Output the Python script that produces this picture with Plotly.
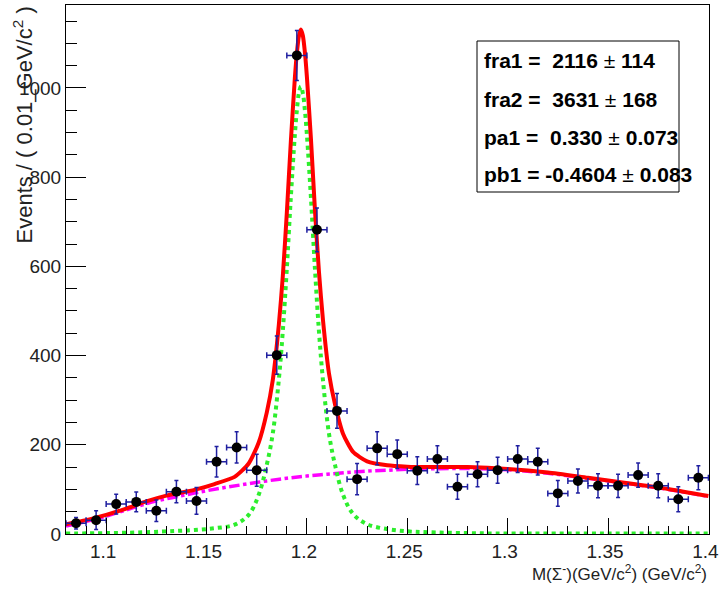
import plotly.graph_objects as go

# ---- data points (bin centres, counts, errors) ----
bin_x = [1.085, 1.095, 1.105, 1.115, 1.125, 1.135, 1.145, 1.155, 1.165, 1.175,
         1.185, 1.195, 1.205, 1.215, 1.225, 1.235, 1.245, 1.255, 1.265, 1.275,
         1.285, 1.295, 1.305, 1.315, 1.325, 1.335, 1.345, 1.355, 1.365, 1.375,
         1.385, 1.395]
counts = [24, 31, 67, 72, 52, 95, 74, 162, 194, 143,
          401, 1073, 682, 276, 123, 192, 179, 142, 168, 106,
          134, 143, 168, 162, 91, 119, 108, 108, 132, 108,
          78, 126]
count_err = [13, 21, 22, 22, 24, 25, 30, 34, 35, 36,
             43, 56, 49, 39, 35, 37, 32, 31, 30, 28,
             28, 29, 30, 30, 29, 27, 27, 26, 27, 27,
             28, 27]
half_bin = 0.005

# ---- fitted curves ----
sig_x = [1.080, 1.100, 1.120, 1.135, 1.144, 1.154, 1.164, 1.171, 1.176, 1.180,
         1.183, 1.186, 1.188, 1.190, 1.192, 1.194, 1.195, 1.196, 1.197, 1.198,
         1.199, 1.200, 1.202, 1.204, 1.206, 1.208, 1.211, 1.214, 1.218, 1.223,
         1.230, 1.240, 1.250, 1.260, 1.280, 1.300, 1.350, 1.400]
sig_y = [1, 2, 4, 7, 9, 13, 21, 43, 88, 155,
         225, 345, 455, 595, 755, 895, 950, 988, 1003, 988,
         950, 895, 755, 595, 455, 345, 225, 155, 88, 45,
         22, 11, 6, 4, 2, 1, 1, 1]

bkg_x = [1.08, 1.09, 1.10, 1.11, 1.12, 1.13, 1.14, 1.15, 1.16, 1.17,
         1.18, 1.19, 1.20, 1.21, 1.22, 1.23, 1.24, 1.25, 1.26, 1.28,
         1.30, 1.32, 1.34, 1.36, 1.38, 1.40]
bkg_y = [18, 28, 40, 54, 68, 79, 88, 97, 105, 112,
         119, 125, 130, 134, 138, 141, 143, 145, 146, 147,
         144, 136, 125, 113, 100, 84]

tot_x = [1.080, 1.090, 1.100, 1.110, 1.120, 1.130, 1.144, 1.154, 1.164, 1.171,
         1.176, 1.180, 1.183, 1.186, 1.188, 1.190, 1.192, 1.194, 1.195, 1.196,
         1.197, 1.198, 1.199, 1.200, 1.202, 1.204, 1.206, 1.208, 1.211, 1.214,
         1.218, 1.223, 1.230, 1.240, 1.250, 1.260, 1.280, 1.300, 1.320, 1.340,
         1.360, 1.380, 1.400]
tot_y = [22, 31, 43, 57, 73, 86, 99, 112, 128, 158,
         205, 272, 345, 468, 578, 720, 880, 1022, 1078, 1116,
         1131, 1117, 1080, 1025, 887, 727, 588, 480, 360, 291,
         225, 184, 163, 154, 151, 150, 150, 146, 138, 126,
         114, 101, 85]

x_range = [1.08, 1.4003]
y_range = [0, 1186]
x_ticks = [1.1, 1.15, 1.2, 1.25, 1.3, 1.35, 1.4]
x_tick_text = ["1.1", "1.15", "1.2", "1.25", "1.3", "1.35", "1.4"]

legend_lines = [
    "<b>fra1 =\u00a0 2116 </b>\u00b1<b> 114</b>",
    "<b>fra2 =\u00a0 3631 </b>\u00b1<b> 168</b>",
    "<b>pa1 =\u00a0 0.330 </b>\u00b1<b> 0.073</b>",
    "<b>pb1 = -0.4604 </b>\u00b1<b> 0.083</b>",
]

FONT = "Liberation Sans"

fig = go.Figure()

fig.add_trace(go.Scatter(
    x=bkg_x, y=bkg_y, mode="lines", line=dict(color="#ff00ff", width=3.5, dash="dashdot", shape="spline"),
    hoverinfo="skip"))
fig.add_trace(go.Scatter(
    x=sig_x, y=sig_y, mode="lines", line=dict(color="#2dee2d", width=4, dash="dot", shape="spline"),
    hoverinfo="skip"))
fig.add_trace(go.Scatter(
    x=tot_x, y=tot_y, mode="lines", line=dict(color="#ff0000", width=4, shape="spline", smoothing=0.6),
    hoverinfo="skip"))
fig.add_trace(go.Scatter(
    x=bin_x, y=counts, mode="markers",
    marker=dict(color="black", size=10, symbol="circle"),
    error_x=dict(type="constant", value=half_bin, color="#1f1fa0", thickness=1.5, width=3),
    error_y=dict(type="data", array=count_err, color="#1f1fa0", thickness=1.5, width=2),
))

axis_common = dict(
    showline=True, linecolor="black", linewidth=1, mirror=True,
    ticks="inside", tickcolor="black", showgrid=False, zeroline=False,
    automargin=False,
    tickfont=dict(family=FONT, size=19, color="#222"),
)

fig.update_xaxes(range=x_range, tickvals=x_ticks, ticktext=x_tick_text, ticklen=16, tickwidth=1,
                 ticklabeloverflow="allow", ticklabelshift=-3,
                 minor=dict(dtick=0.01, tick0=1.08, ticks="inside", ticklen=8, tickcolor="black", showgrid=False),
                 **axis_common)
fig.update_yaxes(range=y_range, dtick=200, tick0=0, ticklen=20, tickwidth=1,
                 minor=dict(dtick=50, tick0=0, ticks="inside", ticklen=11, tickcolor="black", showgrid=False),
                 **axis_common)

L, R, T, B = 66, 10, 5, 56
W, H = 719, 590
pw, ph = W - L - R, H - T - B

def px(xp):
    return (xp - L) / pw

def py(yp):
    return (H - B - yp) / ph

# stats box
fig.add_shape(type="rect", xref="paper", yref="paper",
              x0=px(477), x1=px(679), y0=py(192), y1=py(41),
              line=dict(color="black", width=1), fillcolor="white", layer="above")
for yp, txt in zip([60, 99, 138, 175], legend_lines):
    fig.add_annotation(xref="paper", yref="paper", x=px(482), y=py(yp),
                       xanchor="left", yanchor="middle", showarrow=False,
                       text=txt, font=dict(family=FONT, size=21, color="black"))

# axis titles
fig.add_annotation(xref="paper", yref="paper", x=px(709), y=py(573),
                   xanchor="right", yanchor="middle", showarrow=False,
                   width=200, align="right",
                   text="M(\u03a3<sup>-</sup>)(GeV/c<sup>2</sup>) (GeV/c<sup>2</sup>)",
                   font=dict(family=FONT, size=17, color="#222"))
fig.add_annotation(xref="paper", yref="paper", x=px(22), y=1.0,
                   xanchor="center", yanchor="top", showarrow=False, textangle=-90,
                   text="Events / ( 0.01_GeV/c<sup>2</sup> )",
                   font=dict(family=FONT, size=22, color="#222"))

fig.update_layout(
    width=W, height=H, margin=dict(l=L, r=R, t=T, b=B, autoexpand=False),
    paper_bgcolor="white", plot_bgcolor="white", showlegend=False,
)

fig.write_html("out.html", config={"displayModeBar": False},
               post_script="document.body.style.margin='0';document.body.style.padding='0';")
